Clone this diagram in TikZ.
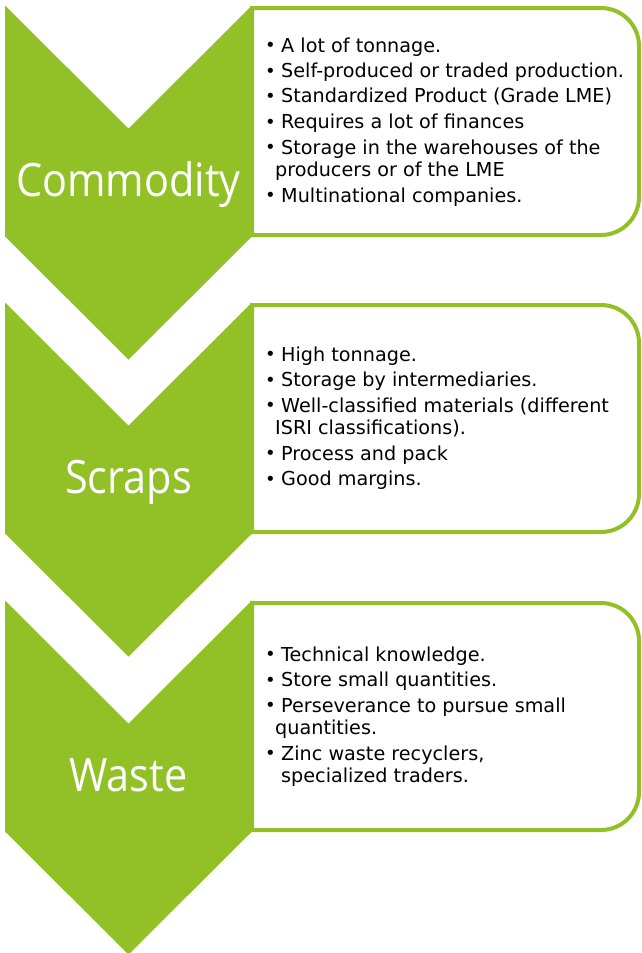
\documentclass[tikz,border=0pt]{standalone}
\usepackage{fontspec}
\setmainfont{DejaVu Sans}
\newfontfamily\headfont[FakeStretch=0.9]{Open Sans}
\definecolor{leaf}{RGB}{145,193,39}
% bullet and continuation indent for the list lines
\newcommand\bl{\makebox[16pt][l]{\raisebox{0.4pt}{\fontsize{18}{18}\selectfont\textbullet}}}
\newcommand\cont{\hspace*{10pt}}
\begin{document}
\begin{tikzpicture}[x=1pt,y=-1pt,
  chevron/.style={fill=leaf,draw=none},
  panel/.style={draw=leaf,line width=4pt,fill=white},
  heading/.style={text=white,font=\headfont\fontsize{46}{46}\selectfont,inner sep=0pt,anchor=base},
  listtext/.style={text=black,inner sep=0pt,anchor=base west,font=\fontsize{19.2}{22.5}\selectfont}]
\useasboundingbox (0,0) rectangle (641,953);
\fill[white] (0,0) rectangle (641,953);

% three stages: a rounded panel on the right, a down-pointing chevron on the left
\foreach \t in {5.5,302.5,600.5} {
  \draw[panel] (252,\t+2.5) [rounded corners=38pt] -- (639,\t+2.5) -- (639,\t+229.5)
        [sharp corners] -- (252,\t+229.5) -- cycle;
  \fill[chevron] (5,\t) -- (128.5,\t+123) -- (252,\t) -- (252,\t+231)
        -- (128.5,\t+354) -- (5,\t+231) -- cycle;
}

\node[heading] (h1) at (128.5,196) {Commodity};
\node[heading] (h2) at (128.5,493.5) {Scraps};
\node[heading] (h3) at (128.5,791) {Waste};

\node[listtext] (l1) at (265,52) {\parbox[t]{370pt}{\raggedright
\bl A lot of tonnage.\\[3pt]
\bl Self-produced or traded production.\\[3pt]
\bl Standardized Product (Grade LME)\\[3pt]
\bl Requires a lot of finances\\[3pt]
\bl Storage in the warehouses of the\\
\cont producers or of the LME\\[3pt]
\bl Multinational companies.}};

\node[listtext] (l2) at (265,361) {\parbox[t]{370pt}{\raggedright
\bl High tonnage.\\[3pt]
\bl Storage by intermediaries.\\[3pt]
\bl Well-classified materials (different\\
\cont ISRI classifications).\\[3pt]
\bl Process and pack\\[3pt]
\bl Good margins.}};

\node[listtext] (l3) at (265,661) {\parbox[t]{370pt}{\raggedright
\bl Technical knowledge.\\[3pt]
\bl Store small quantities.\\[3pt]
\bl Perseverance to pursue small\\
\cont quantities.\\[3pt]
\bl Zinc waste recyclers,\\
\hspace*{16pt}specialized traders.}};
\end{tikzpicture}
\end{document}
